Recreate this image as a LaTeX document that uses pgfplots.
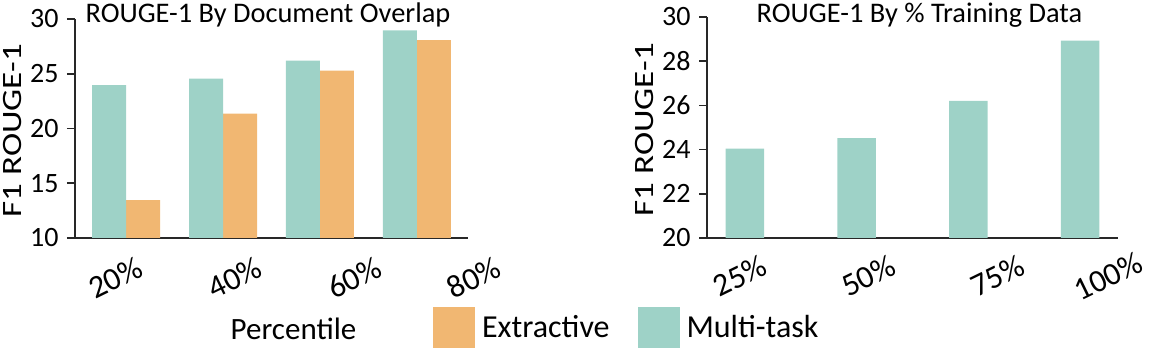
\documentclass[border=0pt]{standalone}
\usepackage{pgfplots}
\pgfplotsset{compat=1.18}
\usepackage{fontspec}
\setmainfont{Carlito}
\definecolor{teal1}{RGB}{158,210,199}
\definecolor{orange1}{RGB}{241,183,114}
\definecolor{axcol}{RGB}{40,40,40}
\pgfplotsset{
  every axis/.append style={font=\fontsize{14}{16}\selectfont},
  every axis title shift=0pt,
  myaxis/.style={
    scale only axis,
    axis x line=bottom, axis y line=left,
    axis line style={-, axcol},
    x axis line style={line width=1.4pt},
    y axis line style={line width=1pt},
    /pgf/number format/assume math mode=true,
    yticklabel style={font=\fontsize{14}{16}\selectfont, inner sep=4pt},
    ytick style={axcol, line width=0.8pt},
    xtick style={draw=none},
    tick align=outside,
    major tick length=4pt,
    xticklabel style={font=\fontsize{16}{18}\selectfont, anchor=center},
    ylabel style={font=\fontsize{14}{16}\selectfont, anchor=center},
    title style={font=\fontsize{14.2}{16}\selectfont, anchor=base},
  },
}
\begin{document}
\begin{tikzpicture}
\path[use as bounding box] (-37.5pt,-56.5pt) rectangle (549.5pt,119pt);
\begin{axis}[myaxis,
  width=196.5pt, height=109.5pt,
  xmin=-0.526, xmax=3.526,
  ymin=10, ymax=30, ytick={10,15,20,25,30},
  xtick={-0.35,0.882,2.114,3.346},
  xticklabels={20\%,40\%,60\%,80\%},
  xticklabel style={xshift=11.7pt, yshift=-16pt, rotate=26},
  ylabel={\scalebox{1.25}[1]{F1 ROUGE-1}},
  ylabel style={at={(axis description cs:-0.158,0.49)}},
  title={ROUGE-1 By Document Overlap},
  title style={at={(axis description cs:0.491,1)}, yshift=-2pt},
  xlabel={Percentile},
  xlabel style={font=\fontsize{15.5}{17}\selectfont, at={(axis description cs:0.556,0)}, anchor=base, yshift=-51pt},
  legend columns=2,
  legend style={at={(axis description cs:0.911,0)}, anchor=west, yshift=-44.75pt,
    font=\fontsize{16}{18}\selectfont,
    draw=none, fill=none, inner sep=0pt, outer sep=0pt,
    nodes={inner sep=0pt, outer sep=0pt},
    /tikz/every odd column/.append style={column sep=3.5pt},
    /tikz/every even column/.append style={column sep=14pt}},
  legend image code/.code={\fill[#1,draw=none] (0pt,-9.9pt) rectangle (21pt,10.6pt);},
]
\addplot[ybar, bar width=17pt, bar shift=8.5pt, fill=orange1, draw=none]
  coordinates {(0,13.45) (1,21.35) (2,25.28) (3,28.08)};
\addlegendentry{Extractive}
\addplot[ybar, bar width=17pt, bar shift=-8.5pt, fill=teal1, draw=none]
  coordinates {(0,23.95) (1,24.55) (2,26.2) (3,28.95)};
\addlegendentry{Multi-task}
\end{axis}
\begin{axis}[myaxis, at={(316pt,0pt)},
  width=205.5pt, height=110.5pt,
  xmin=-0.34, xmax=3.34,
  ymin=20, ymax=30, ytick={20,22,24,26,28,30},
  xtick={-0.045,1.106,2.261,3.25},
  xticklabels={25\%,50\%,75\%,100\%},
  xticklabel style={yshift=-15pt, rotate=26},
  ylabel={\scalebox{1.25}[1]{F1 ROUGE-1}},
  ylabel style={at={(axis description cs:-0.153,0.49)}},
  title={ROUGE-1 By \% Training Data},
  title style={at={(axis description cs:0.517,1)}, yshift=-3pt},
]
\addplot[ybar, bar width=19.25pt, bar shift=0pt, fill=teal1, draw=none]
  coordinates {(0,24.04) (1,24.52) (2,26.21) (3,28.93)};
\end{axis}
\end{tikzpicture}
\end{document}
